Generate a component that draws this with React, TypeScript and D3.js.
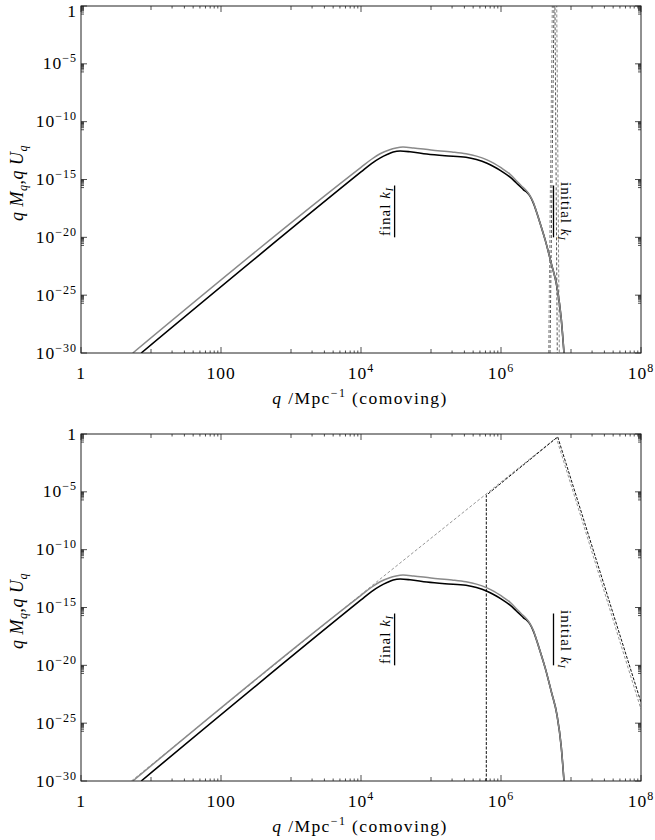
import React from 'react';
import * as d3 from 'd3';

// all values are log10 (q in Mpc^-1, y = q M_q or q U_q)
const xMajorExp = [0, 2, 4, 6, 8];
const xMinorExp = [1, 3, 5, 7];
const yMajorExp = [0, -5, -10, -15, -20, -25, -30];

const finalBlack: [number, number][] = [
  [0.86, -30], [4.0, -14.35], [4.15, -13.62], [4.27, -13.15], [4.38, -12.82], [4.46, -12.63],
  [4.56, -12.54], [4.7, -12.6], [4.94, -12.8], [5.2, -12.95], [5.5, -13.08], [5.65, -13.28],
  [5.8, -13.6], [5.9, -13.9], [6.0, -14.25], [6.13, -14.8], [6.22, -15.3], [6.3, -15.75],
  [6.33, -15.95], [6.36, -16.05], [6.41, -16.4], [6.46, -17.0], [6.51, -17.85], [6.57, -19.0],
  [6.63, -20.2], [6.72, -22.3], [6.8, -24.3], [6.86, -27.0], [6.9, -30]
];
const finalGray: [number, number][] = [
  [0.74, -30], [4.0, -13.95], [4.15, -13.25], [4.28, -12.75], [4.4, -12.45], [4.5, -12.28],
  [4.6, -12.2], [4.75, -12.27], [5.0, -12.45], [5.3, -12.62], [5.5, -12.78], [5.65, -12.98],
  [5.8, -13.3], [5.9, -13.6], [6.0, -13.98], [6.13, -14.55], [6.22, -15.1], [6.3, -15.6],
  [6.36, -15.95], [6.41, -16.35], [6.46, -16.95], [6.51, -17.85], [6.57, -19.0], [6.63, -20.2],
  [6.72, -22.3], [6.8, -24.3], [6.86, -27.0], [6.9, -30]
];

// top panel: initial spectrum, a narrow spike
const spikeGray: [number, number][] = [[6.681, -30], [6.733, 0], [6.765, 3], [6.796, 0], [6.833, -30]];
const spikeDark: [number, number][] = [[6.70, -30], [6.757, 0], [6.764, 0.5], [6.771, 0], [6.804, -30]];

// bottom panel: initial spectrum, broad power law
const broadGray: [number, number][] = [[0.72, -30], [4.22, -12.8], [6.79, -0.32], [8, -23.8]];
const broadBlack: [number, number][] = [[5.79, -30], [5.79, -5.3], [6.81, -0.25], [8, -23.2]];

const markerLogQ = [4.48, 6.75];
const markerNames = ['final', 'initial'];
const markerSpan = [-15, -20];

const W = 655, H = 840;
const left = 81, right = 641, ph = 347;
const panelTops = [6, 434];
const font = '"Liberation Serif", "DejaVu Serif", serif';

function Panel({ top, dashed, idx }: { top: number; dashed: { pts: [number, number][]; color: string; width: number; dash: string }[]; idx: number }) {
  const bottom = top + ph;
  const x = d3.scaleLog().domain([1, 1e8]).range([left, right]);
  const y = d3.scaleLog().domain([1e-30, 1]).range([bottom, top]);
  const line = d3.line<[number, number]>().x(d => x(Math.pow(10, d[0]))).y(d => y(Math.pow(10, d[1])));
  const smooth = d3.line<[number, number]>().x(d => x(Math.pow(10, d[0]))).y(d => y(Math.pow(10, d[1]))).curve(d3.curveMonotoneX);
  const clipId = 'clip' + idx;

  const xt: { v: number; len: number }[] = [];
  xMajorExp.forEach(e => xt.push({ v: Math.pow(10, e), len: 6 }));
  xMinorExp.forEach(e => {
    xt.push({ v: Math.pow(10, e), len: 4 });
    for (let m = 2; m <= 9; m++) xt.push({ v: m * Math.pow(10, e), len: 2.5 });
  });
  const yt: { v: number; len: number }[] = [];
  yMajorExp.forEach(e => {
    yt.push({ v: Math.pow(10, e), len: 6 });
    if (e - 1 >= -30) for (let m = 2; m <= 9; m++) yt.push({ v: m * Math.pow(10, e - 1), len: 3 });
  });

  const ym1 = y(Math.pow(10, markerSpan[0]));
  const ym2 = y(Math.pow(10, markerSpan[1]));
  const ymid = (ym1 + ym2) / 2;

  return (
    <g>
      <defs>
        <clipPath id={clipId}><rect x={left} y={top} width={right - left} height={ph} /></clipPath>
      </defs>
      <g clipPath={`url(#${clipId})`}>
        {dashed.map((d, i) => (
          <path key={i} d={line(d.pts) || ''} fill="none" stroke={d.color} strokeWidth={d.width} strokeDasharray={d.dash} />
        ))}
        <path d={smooth(finalBlack) || ''} fill="none" stroke="#000" strokeWidth={1.6} />
        <path d={smooth(finalGray) || ''} fill="none" stroke="#8a8a8a" strokeWidth={1.5} />
      </g>
      {/* k_I markers */}
      {markerLogQ.map((lq, i) => {
        const mx = x(Math.pow(10, lq));
        const isFinal = markerNames[i] === 'final';
        return (
          <g key={i}>
            <line x1={mx} x2={mx} y1={ym1 + 6} y2={ym2} stroke="#000" strokeWidth={1.3} />
            <text
              transform={isFinal ? `translate(${mx - 5},${ymid + 3}) rotate(-90)` : `translate(${mx + 7},${ymid + 3}) rotate(90)`}
              textAnchor="middle" fontFamily={font} fontSize={15} letterSpacing={1}>
              {markerNames[i]} <tspan fontStyle="italic">k</tspan><tspan fontStyle="italic" fontSize={10} dy={3}>I</tspan>
            </text>
          </g>
        );
      })}
      {/* frame and ticks */}
      <rect x={left} y={top} width={right - left} height={ph} fill="none" stroke="#222" strokeWidth={1} />
      {xt.map((t, i) => (
        <g key={'x' + i} stroke="#222" strokeWidth={0.8}>
          <line x1={x(t.v)} x2={x(t.v)} y1={bottom} y2={bottom - t.len} />
          <line x1={x(t.v)} x2={x(t.v)} y1={top} y2={top + t.len} />
        </g>
      ))}
      {yt.map((t, i) => (
        <g key={'y' + i} stroke="#222" strokeWidth={0.8}>
          <line x1={left} x2={left + t.len} y1={y(t.v)} y2={y(t.v)} />
          <line x1={right} x2={right - t.len} y1={y(t.v)} y2={y(t.v)} />
        </g>
      ))}
      {yMajorExp.map(e => {
        const ty = Math.max(y(Math.pow(10, e)) + 5.5, 17);
        return (
          <text key={'yl' + e} x={77} y={ty} textAnchor="end" fontFamily={font} fontSize={17.5} letterSpacing={1}>
            {e === 0 ? '1' : <>10<tspan dy={-7} fontSize={12}>{'\u2212' + (-e)}</tspan></>}
          </text>
        );
      })}
      {xMajorExp.map(e => (
        <text key={'xl' + e} x={x(Math.pow(10, e))} y={bottom + 26} textAnchor="middle" fontFamily={font} fontSize={17.5} letterSpacing={1}>
          {e === 0 ? '1' : e === 2 ? '100' : <>10<tspan dy={-7} fontSize={12}>{e}</tspan></>}
        </text>
      ))}
      <text x={360} y={bottom + 51} textAnchor="middle" fontFamily={font} fontSize={17.5} letterSpacing={1.4}>
        <tspan fontStyle="italic">q</tspan> /Mpc<tspan dy={-7} fontSize={12}>{'\u22121'}</tspan><tspan dy={7}> (comoving)</tspan>
      </text>
      <text transform={`translate(23,${top + 177}) rotate(-90)`} textAnchor="middle" fontFamily={font} fontSize={18} letterSpacing={0.5}>
        <tspan fontStyle="italic">q</tspan> <tspan fontStyle="italic">M</tspan><tspan fontStyle="italic" fontSize={12} dy={4}>q</tspan><tspan dy={-4}>,</tspan><tspan fontStyle="italic">q</tspan> <tspan fontStyle="italic">U</tspan><tspan fontStyle="italic" fontSize={12} dy={4}>q</tspan>
      </text>
    </g>
  );
}

export default function App() {
  const topDashed = [
    { pts: spikeGray, color: '#8a8a8a', width: 1, dash: '3,2' },
    { pts: spikeDark, color: '#555', width: 1, dash: '3,2' },
  ];
  const bottomDashed = [
    { pts: broadGray, color: '#8a8a8a', width: 0.9, dash: '3,2' },
    { pts: broadBlack, color: '#111', width: 1, dash: '3,1.5' },
  ];
  return (
    <svg width={W} height={H} style={{ position: 'absolute', left: 0, top: 0, background: '#fff' }}>
      <Panel top={panelTops[0]} dashed={topDashed} idx={0} />
      <Panel top={panelTops[1]} dashed={bottomDashed} idx={1} />
    </svg>
  );
}
